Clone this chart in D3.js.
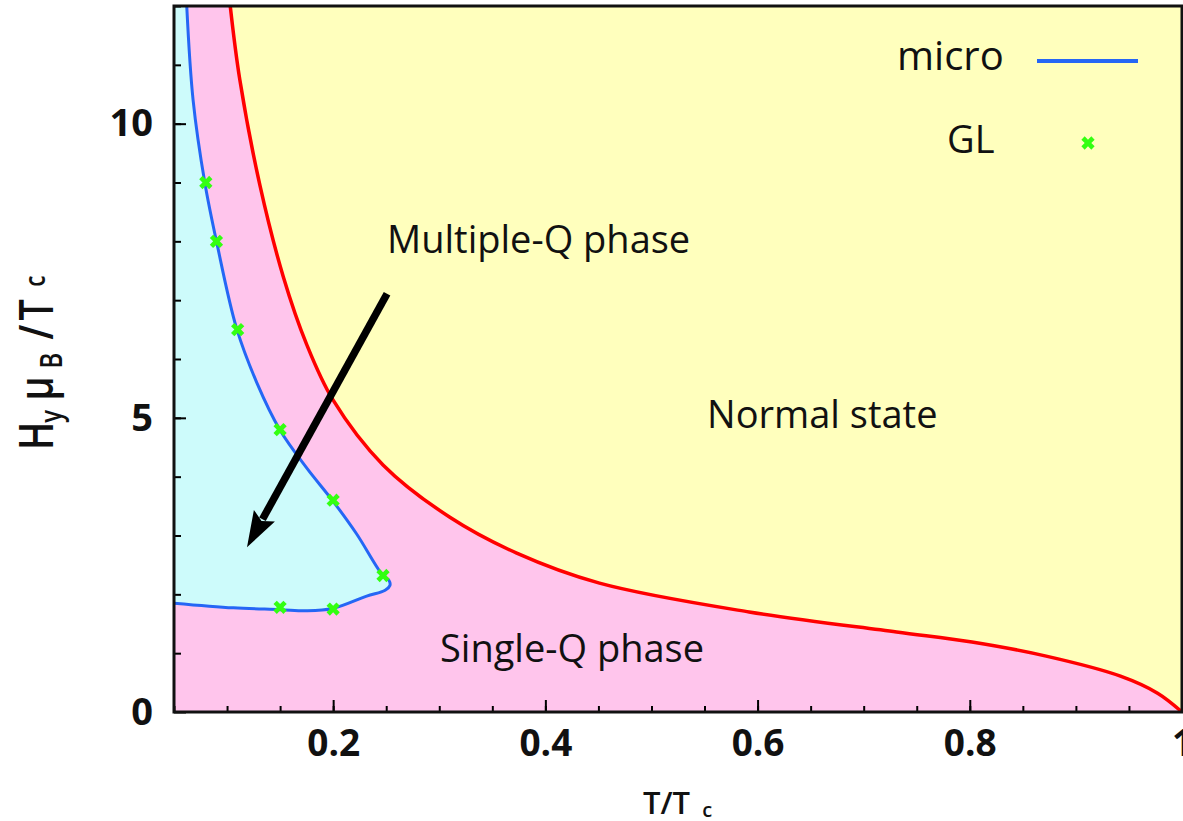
<!DOCTYPE html>
<html lang="en">
<head>
<meta charset="utf-8">
<title>Phase diagram</title>
<script src="https://d3js.org/d3.v7.min.js"></script>
<style>
  body { margin: 0; background: #fff; }
  text { font-family: "Open Sans", "DejaVu Sans", sans-serif; fill: #111; }
</style>
</head>
<body>
<script>

// Values
var xTickVals  = [0.2, 0.4, 0.6, 0.8, 1];
var xTickText  = ["0.2", "0.4", "0.6", "0.8", "1"];
var yTickVals  = [0, 5, 10];
var yTickText  = ["0", "5", "10"];

// red line: upper edge of single-Q phase (T/Tc, H)
var redT = [0.103, 0.112, 0.131, 0.153, 0.175, 0.200, 0.247, 0.310, 0.373, 0.451, 0.592, 0.731, 0.802, 0.872, 0.942, 0.977, 1.0];
var redH = [12.0, 10.75, 8.95, 7.4, 6.25, 5.3, 4.2, 3.31, 2.70, 2.19, 1.70, 1.36, 1.19, 0.95, 0.61, 0.32, 0.0];

// blue line: micro calculation, multiple-Q boundary
var blueT = [0.062, 0.068, 0.079, 0.0905, 0.109, 0.128, 0.150, 0.175, 0.1996, 0.222, 0.2473, 0.2525, 0.2535, 0.249, 0.2316, 0.1996, 0.175, 0.150, 0.106, 0.05];
var blueH = [12.0, 10.4, 9.0, 7.96, 6.52, 5.6, 4.79, 4.15, 3.59, 3.03, 2.31, 2.24, 2.15, 2.07, 1.97, 1.76, 1.72, 1.74, 1.77, 1.85];

// green points: GL calculation
var glT = [0.08, 0.09, 0.11, 0.15, 0.20, 0.247, 0.15, 0.20];
var glH = [9.0, 8.0, 6.5, 4.8, 3.6, 2.32, 1.78, 1.75];

var W = 1183, H = 821;
var pL = 174, pR = 1182, pT = 6, pB = 712;

var x = d3.scaleLinear().domain([0.05, 1.0]).range([pL, pR]);
var y = d3.scaleLinear().domain([0, 12]).range([pB, pT]);

var svg = d3.select("body").append("svg")
    .attr("width", W)
    .attr("height", H);

svg.append("defs").append("clipPath").attr("id", "plotclip")
   .append("rect")
   .attr("x", pL).attr("y", pT)
   .attr("width", pR - pL).attr("height", pB - pT);

var plot = svg.append("g").attr("clip-path", "url(#plotclip)");

var red = redT.map(function(t, i) { return [t, redH[i]]; });
var blue = blueT.map(function(t, i) { return [t, blueH[i]]; });
var gl = glT.map(function(t, i) { return [t, glH[i]]; });

// normal state background
plot.append("rect")
    .attr("x", pL).attr("y", pT)
    .attr("width", pR - pL).attr("height", pB - pT)
    .attr("fill", "#ffffbd");

// single-Q region (below the red line)
plot.append("rect")
    .attr("x", x(0.05)).attr("y", y(12))
    .attr("width", x(red[0][0]) - x(0.05) + 1).attr("height", y(0) - y(12))
    .attr("fill", "#ffc5ec");

var redArea = d3.area()
    .x(function(d) { return x(d[0]); })
    .y0(y(0))
    .y1(function(d) { return y(d[1]); })
    .curve(d3.curveCatmullRom);

plot.append("path")
    .attr("d", redArea(red))
    .attr("fill", "#ffc5ec");

// multiple-Q region (left of the blue line)
var lineGen = d3.line()
    .x(function(d) { return x(d[0]); })
    .y(function(d) { return y(d[1]); })
    .curve(d3.curveCatmullRom);

plot.append("path")
    .attr("d", lineGen(blue) + "L" + x(0.05) + "," + y(12) + "Z")
    .attr("fill", "#cdfbfb");

// boundary lines
plot.append("path")
    .attr("d", lineGen(red))
    .attr("fill", "none")
    .attr("stroke", "#ff0000")
    .attr("stroke-width", 3.5);

plot.append("path")
    .attr("d", lineGen(blue))
    .attr("fill", "none")
    .attr("stroke", "#2566f5")
    .attr("stroke-width", 3);

// GL markers
var cross = d3.symbol().type(d3.symbolCross).size(110);
plot.selectAll(".gl")
    .data(gl)
    .enter()
    .append("path")
    .attr("class", "gl")
    .attr("d", cross)
    .attr("transform", function(d) { return "translate(" + x(d[0]) + "," + y(d[1]) + ") rotate(45)"; })
    .attr("fill", "#33ff11");

// region labels
svg.append("text").attr("x", x(0.2508)).attr("y", y(7.81))
   .attr("font-size", 38).attr("font-weight", 500).text("Multiple-Q phase");
svg.append("text").attr("x", x(0.5524)).attr("y", y(4.82))
   .attr("font-size", 38).attr("font-weight", 500).text("Normal state");
svg.append("text").attr("x", x(0.3007)).attr("y", y(0.85))
   .attr("font-size", 38).attr("font-weight", 500).text("Single-Q phase");

// arrow pointing into the multiple-Q region
var a0 = [x(0.2508), y(7.11)], a1 = [x(0.1188), y(2.80)];
var ang = Math.atan2(a1[1] - a0[1], a1[0] - a0[0]);
var headLen = 36, headW = 12;
var bx = a1[0] - headLen * Math.cos(ang), by = a1[1] - headLen * Math.sin(ang);
svg.append("line")
   .attr("x1", a0[0]).attr("y1", a0[1])
   .attr("x2", bx + 4 * Math.cos(ang)).attr("y2", by + 4 * Math.sin(ang))
   .attr("stroke", "#000").attr("stroke-width", 7.5);
svg.append("path")
   .attr("d", "M" + a1[0] + "," + a1[1] +
              "L" + (bx + headW * Math.sin(ang)) + "," + (by - headW * Math.cos(ang)) +
              "L" + (bx + 6 * Math.cos(ang)) + "," + (by + 6 * Math.sin(ang)) +
              "L" + (bx - headW * Math.sin(ang)) + "," + (by + headW * Math.cos(ang)) + "Z")
   .attr("fill", "#000");

// legend
var leg = svg.append("g");
leg.append("text").attr("x", 897).attr("y", 70).attr("font-size", 40).attr("font-weight", 500).text("micro");
leg.append("line").attr("x1", 1037).attr("x2", 1138).attr("y1", 61).attr("y2", 61)
   .attr("stroke", "#2566f5").attr("stroke-width", 4);
leg.append("text").attr("x", 947).attr("y", 153).attr("font-size", 38).attr("font-weight", 500).text("GL");
leg.append("path").attr("d", cross)
   .attr("transform", "translate(1088,143) rotate(45)")
   .attr("fill", "#33ff11");

// axes: ticks point inward
var xMinor = d3.range(0.05, 1.0001, 0.05);
var yMinor = d3.range(1, 12.0001, 1);

svg.append("g").attr("transform", "translate(0," + pB + ")")
   .call(d3.axisBottom(x).tickValues(xMinor).tickSize(-6).tickFormat(""))
   .call(function(g) { g.select(".domain").remove(); g.selectAll("line").attr("stroke-width", 2); });

svg.append("g").attr("transform", "translate(0," + pB + ")")
   .call(d3.axisBottom(x).tickValues(xTickVals).tickSize(-12).tickPadding(18)
         .tickFormat(function(d, i) { return xTickText[i]; }))
   .call(function(g) {
       g.select(".domain").remove();
       g.selectAll("line").attr("stroke-width", 2);
       g.selectAll("text").attr("font-size", 37).attr("font-weight", 700)
        .attr("font-family", "'Open Sans', sans-serif").attr("fill", "#111");
   });

svg.append("g").attr("transform", "translate(" + pL + ",0)")
   .call(d3.axisLeft(y).tickValues(yMinor).tickSize(-7).tickFormat(""))
   .call(function(g) { g.select(".domain").remove(); g.selectAll("line").attr("stroke-width", 2); });

svg.append("g").attr("transform", "translate(" + pL + ",0)")
   .call(d3.axisLeft(y).tickValues(yTickVals).tickSize(-12).tickPadding(21)
         .tickFormat(function(d, i) { return yTickText[i]; }))
   .call(function(g) {
       g.select(".domain").remove();
       g.selectAll("line").attr("stroke-width", 2);
       g.selectAll("text").attr("font-size", 38).attr("font-weight", 700)
        .attr("font-family", "'Open Sans', sans-serif").attr("fill", "#111");
   });

// frame
svg.append("rect")
   .attr("x", pL).attr("y", pT)
   .attr("width", pR - pL).attr("height", pB - pT)
   .attr("fill", "none").attr("stroke", "#111").attr("stroke-width", 3);

// axis titles
var xt = svg.append("text").attr("x", 643).attr("y", 814).attr("font-size", 31).attr("font-weight", 600);
xt.append("tspan").text("T/T");
xt.append("tspan").attr("font-size", 20).attr("dx", 12).attr("dy", 3).text("c");

var yt = svg.append("text")
   .attr("transform", "translate(53,450) rotate(-90) scale(0.8,1)")
   .attr("font-size", 47).attr("font-weight", 600);
yt.append("tspan").attr("x", 0).text("H");
yt.append("tspan").attr("x", 34).attr("dy", 9).attr("font-size", 30).text("y");
yt.append("tspan").attr("x", 62).attr("dy", -9).text("μ");
yt.append("tspan").attr("x", 102).attr("dy", 9).attr("font-size", 30).text("B");
yt.append("tspan").attr("x", 138).attr("dy", -9).text("/");
yt.append("tspan").attr("x", 162).text("T");
yt.append("tspan").attr("x", 204).attr("dy", -8).attr("font-size", 28).text("c");

</script>
</body>
</html>
